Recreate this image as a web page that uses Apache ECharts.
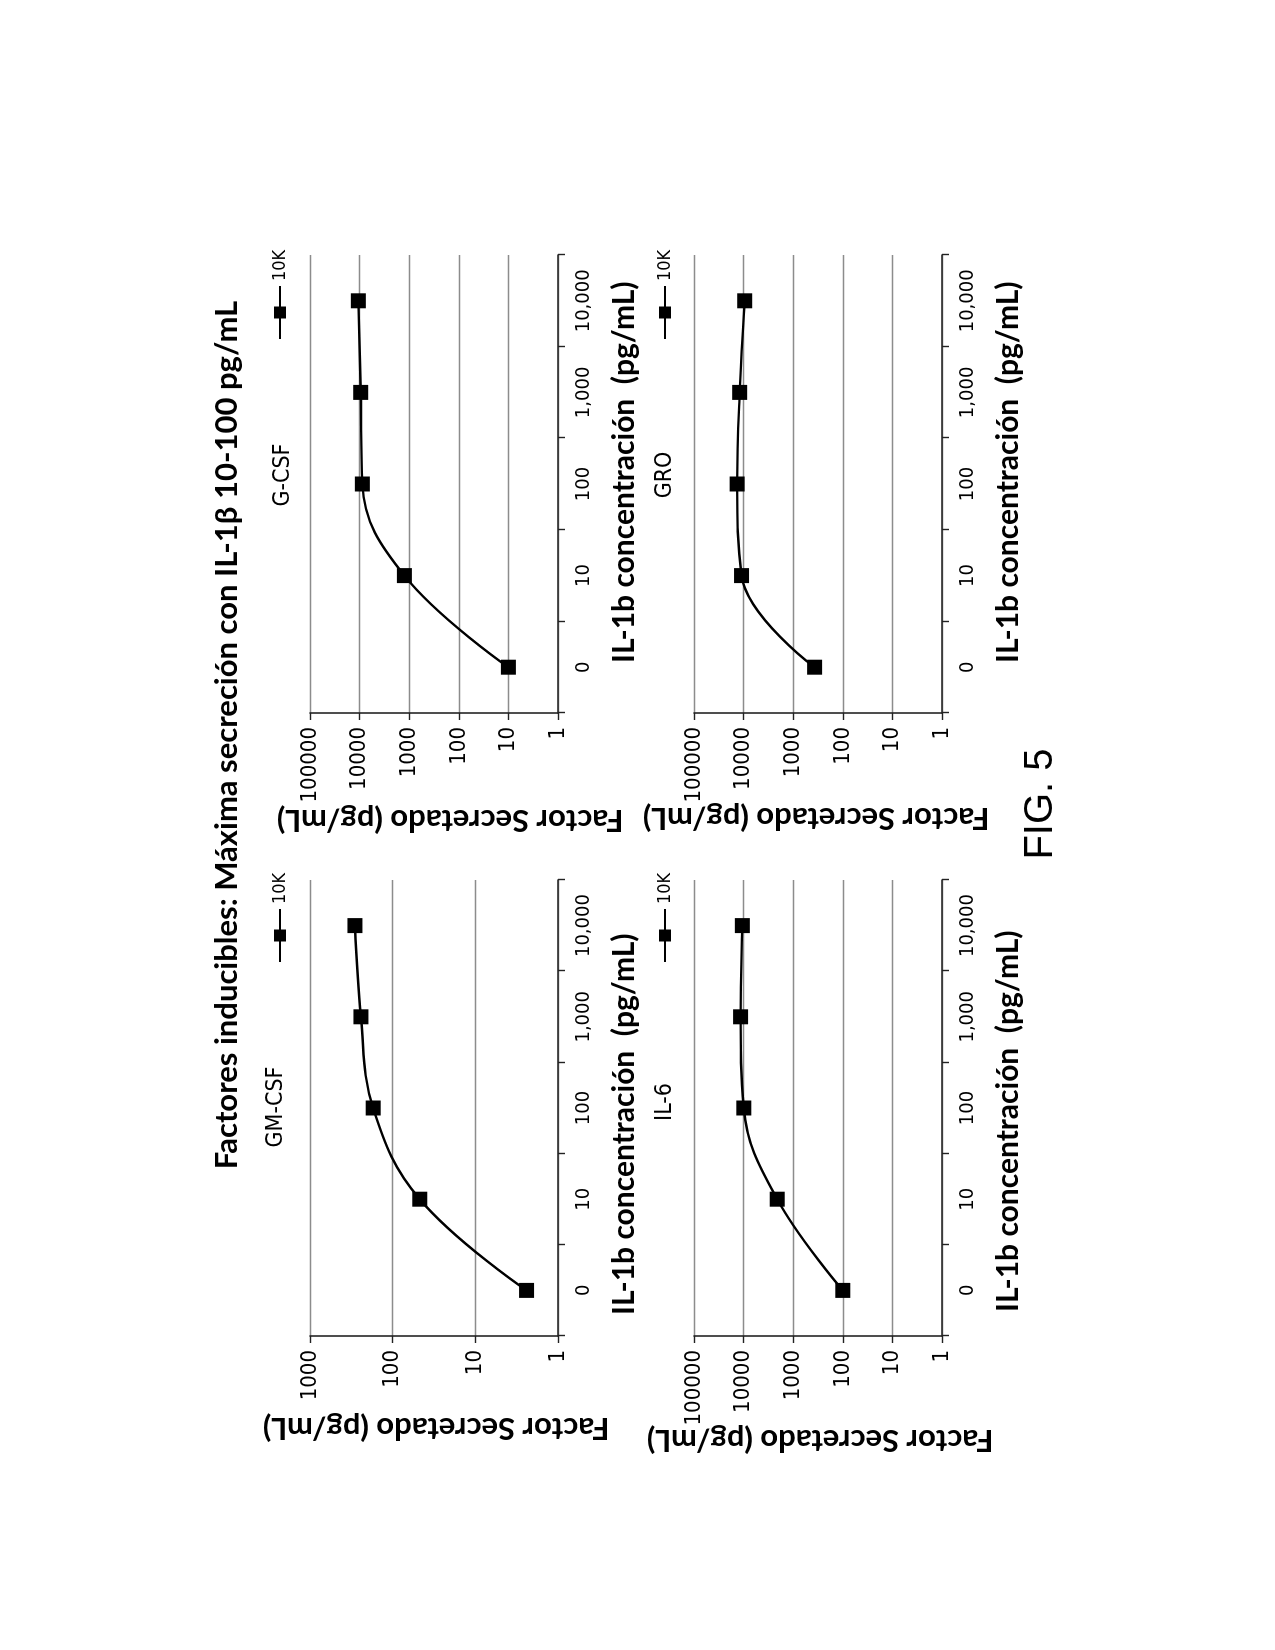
<!DOCTYPE html>
<html>
<head>
<meta charset="utf-8">
<script src="https://cdn.jsdelivr.net/npm/echarts@6/dist/echarts.min.js"></script>
<style>
  html, body { margin: 0; padding: 0; background: #fff; }
  body { width: 1275px; height: 1650px; overflow: hidden; position: relative; }
  /* the figure is laid out readable (1650 x 1275) and turned a quarter left */
  #page {
    position: absolute; left: 0; top: 0;
    width: 1650px; height: 1275px;
    transform-origin: 0 0;
    transform: translateY(1650px) rotate(-90deg);
  }
</style>
</head>
<body>
<div id="page"></div>
<script>
// ── data ────────────────────────────────────────────────────────────────────
var doseLabels = ['0', '10', '100', '1,000', '10,000'];
var panelNames = ['GM-CSF', 'G-CSF', 'IL-6', 'GRO'];
var seriesName = '10K';

var gmcsf = [2.4, 47, 172, 242, 286];
var gcsf  = [10, 1250, 8800, 9500, 10600];
var il6   = [100, 2100, 9900, 11500, 10600];
var gro   = [370, 11000, 13500, 12000, 9500];

var yMaxGm    = 1000;     // GM-CSF panel: 1 .. 1000
var yMaxOther = 100000;   // other panels: 1 .. 100000

var titleText = 'Factores inducibles: Máxima secreción con IL-1β 10-100 pg/mL';
var yName = 'Factor Secretado (pg/mL)';
var xName = 'IL-1b concentración  (pg/mL)';
var figLabel = 'FIG. 5';

// ── layout (readable frame, 1650 x 1275) ────────────────────────────────────
var NARROW = '"Liberation Sans Narrow", "DejaVu Sans Condensed", "Liberation Sans", sans-serif';
var BOLD = 'Lato, "Open Sans", "Noto Sans", sans-serif';

var grids = [
  { left: 314, top: 310, width: 456, height: 248 },
  { left: 937, top: 310, width: 458, height: 248 },
  { left: 314, top: 694, width: 456, height: 248 },
  { left: 937, top: 694, width: 458, height: 248 }
];
var panelData = [gmcsf, gcsf, il6, gro];
var panelMax = [yMaxGm, yMaxOther, yMaxOther, yMaxOther];

var chart = echarts.init(document.getElementById('page'), null, { width: 1650, height: 1275 });

function xAxisFor(i) {
  return {
    type: 'category', gridIndex: i, data: doseLabels, boundaryGap: true,
    axisLine: { lineStyle: { color: '#222', width: 1.6 } },
    axisTick: { show: true, inside: false, length: 7, lineStyle: { color: '#222', width: 1.4 } },
    axisLabel: { margin: 16, fontFamily: NARROW, fontSize: 20, color: '#000' },
    splitLine: { show: false }
  };
}

function yAxisFor(i) {
  return {
    type: 'log', logBase: 10, gridIndex: i, min: 1, max: panelMax[i],
    axisLine: { show: true, lineStyle: { color: '#222', width: 1.6 } },
    axisTick: { show: true, inside: false, length: 7, lineStyle: { color: '#222', width: 1.4 } },
    axisLabel: {
      margin: 14, fontFamily: NARROW, fontSize: 22, color: '#000',
      formatter: function (v) { return String(Math.round(v)); }
    },
    splitLine: { show: true, lineStyle: { color: '#8c8c8c', width: 1.3 } }
  };
}

function seriesFor(i) {
  return {
    name: seriesName, type: 'line', xAxisIndex: i, yAxisIndex: i,
    data: panelData[i], smooth: 0.4,
    symbol: 'rect', symbolSize: 15,
    itemStyle: { color: '#000' },
    lineStyle: { color: '#000', width: 2.4 },
    animation: false
  };
}

var legendPos = [[682, 266], [1305, 266], [682, 651], [1305, 651]];

function legendFor(i) {
  return {
    data: [seriesName], left: legendPos[i][0], top: legendPos[i][1],
    itemWidth: 53, itemHeight: 15, itemGap: 0,
    textStyle: { fontFamily: NARROW, fontSize: 18, color: '#000' },
    selectedMode: false
  };
}

function text(x, y, str, font, opts) {
  opts = opts || {};
  return {
    type: 'text', x: x, y: y, rotation: opts.rotation || 0,
    style: {
      text: str, font: font, fill: '#000',
      align: opts.align || 'center', verticalAlign: 'middle',
      textAlign: opts.align || 'center', textVerticalAlign: 'middle'
    }
  };
}

var labelPos = [[543, 276], [1175, 283], [548, 665], [1175, 665]];
var yNamePos = [[222, 436], [830, 450], [210, 820], [832, 816]];
var xNamePos = [[335, 624], [987, 624], [338, 1008], [987, 1008]];

var graphics = [text(915, 227, titleText, 'bold 31px ' + BOLD)];
for (var i = 0; i < 4; i++) {
  graphics.push(text(labelPos[i][0], labelPos[i][1], panelNames[i], '23px ' + NARROW));
  graphics.push(text(yNamePos[i][0], yNamePos[i][1], yName, 'bold 31px ' + BOLD, { rotation: Math.PI / 2 }));
  graphics.push(text(xNamePos[i][0], xNamePos[i][1], xName, 'bold 30px ' + BOLD, { align: 'left' }));
}
graphics.push(text(846, 1041, figLabel, '40px "Liberation Sans", Arial, sans-serif'));

chart.setOption({
  backgroundColor: '#fff',
  animation: false,
  grid: grids.map(function (g) { return Object.assign({ containLabel: false }, g); }),
  xAxis: [0, 1, 2, 3].map(xAxisFor),
  yAxis: [0, 1, 2, 3].map(yAxisFor),
  series: [0, 1, 2, 3].map(seriesFor),
  legend: [0, 1, 2, 3].map(legendFor),
  graphic: graphics
});
</script>
</body>
</html>
